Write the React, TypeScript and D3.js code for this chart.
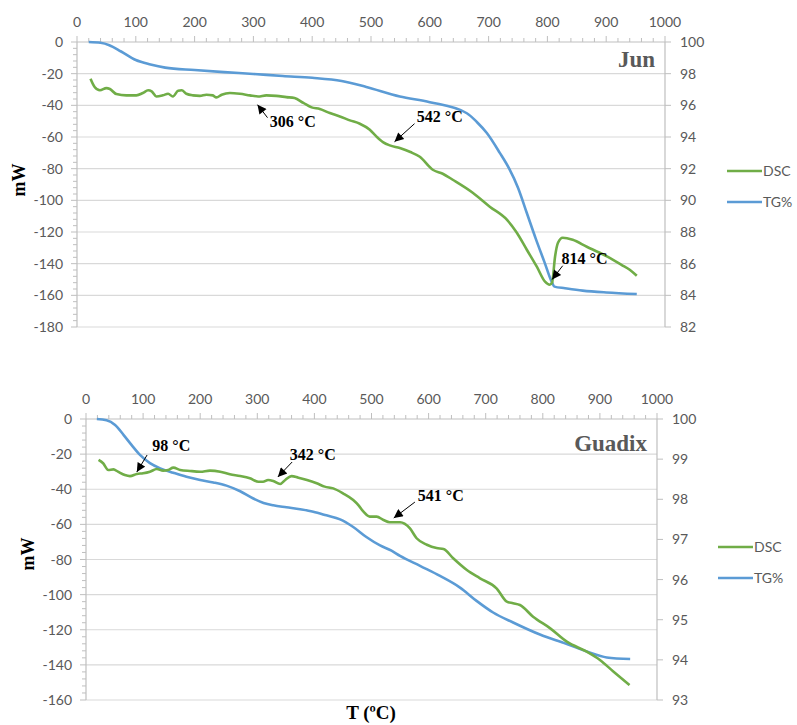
import React from "react";
import * as d3 from "d3";

// temperature (°C) ticks shared by both panels
const tempTicks = [0, 100, 200, 300, 400, 500, 600, 700, 800, 900, 1000];

// Jun sample: [T °C, value]
const junDsc: [number, number][] = [
  [23, -23.2], [30, -28.4], [39, -30.5], [50, -29.1], [56, -29.7], [67, -32.9], [84, -33.7], [101, -33.7],
  [112, -32.2], [121, -30.5], [127, -31.2], [135, -34.4], [146, -33.7], [155, -32.7], [163, -34.4], [172, -30.8],
  [178, -30.5], [186, -32.7], [197, -33.7], [209, -34], [220, -33.3], [231, -33.7], [237, -35], [246, -33.3],
  [260, -32.2], [277, -32.7], [294, -33.7], [308, -34.4], [322, -33.7], [339, -34], [356, -34.8], [370, -35.4],
  [385, -38.5], [399, -41.3], [413, -42.3], [430, -44.9], [447, -47], [464, -49.5], [481, -51.6], [498, -55.4],
  [509, -59.6], [521, -63.4], [532, -65.3], [549, -67], [567, -69.5], [583, -72.5], [605, -80.7], [622, -83.2],
  [639, -87], [673, -95.2], [702, -104], [731, -112.2], [748, -120.5], [765, -131.2], [782, -141.9], [796, -151.4],
  [804, -153.3], [808, -152], [813, -135.6], [818, -126.8], [826, -123.6], [843, -124.9], [867, -129.3],
  [889, -133.1], [906, -136.3], [926, -140.7], [940, -143.8], [952, -147.6],
];
const junTg: [number, number][] = [
  [20, 100], [40, 99.95], [55, 99.8], [75, 99.4], [100, 98.86], [125, 98.58], [150, 98.38], [200, 98.23],
  [250, 98.1], [300, 97.98], [350, 97.85], [400, 97.74], [450, 97.54], [492, 97.16], [549, 96.56], [600, 96.2],
  [663, 95.5], [680, 94.95], [697, 94.25], [719, 93.0], [735, 92.0], [750, 90.8], [765, 89.2], [780, 87.6],
  [795, 86.1], [808, 84.8], [812, 84.55], [830, 84.45], [860, 84.3], [900, 84.18], [952, 84.08],
];

// Guadix sample
const guadixDsc: [number, number][] = [
  [22, -23.3], [30, -25.2], [39, -29], [48, -28.7], [56, -30], [68, -31.9], [77, -32.5], [89, -31.3],
  [100, -30.9], [112, -30], [124, -28.5], [135, -29.4], [144, -29], [153, -27.7], [165, -29], [182, -29.6],
  [200, -30], [217, -29.4], [235, -30], [252, -31.5], [270, -32.5], [287, -33.8], [302, -35.7], [310, -35.7],
  [319, -34.7], [328, -35.3], [340, -37], [349, -34.7], [360, -32.5], [372, -33.4], [387, -34.7], [404, -36.6],
  [418, -38.5], [433, -39.5], [450, -42.3], [468, -46.1], [477, -49], [486, -52.8], [497, -55.6], [509, -55.6],
  [521, -57.5], [532, -58.8], [550, -58.8], [567, -62.2], [579, -67.9], [597, -71.6], [614, -73.5], [626, -74],
  [643, -79.3], [667, -86], [690, -90.7], [719, -96.4], [737, -104], [748, -104.9], [760, -105.9], [783, -112.6],
  [813, -119.2], [842, -126.8], [877, -132.5], [900, -137.2], [924, -143.9], [952, -151.5],
];
const guadixTg: [number, number][] = [
  [19, 100], [36, 99.97], [51, 99.85], [66, 99.6], [80, 99.35], [95, 99.1], [112, 98.9], [130, 98.77],
  [153, 98.66], [176, 98.56], [200, 98.48], [223, 98.42], [246, 98.34], [270, 98.2], [293, 98.02], [311, 97.91],
  [328, 97.85], [351, 97.8], [375, 97.75], [398, 97.69], [421, 97.6], [445, 97.5], [468, 97.31], [491, 97.06],
  [515, 96.85], [535, 96.72], [550, 96.59], [585, 96.34], [620, 96.09], [655, 95.8], [684, 95.47], [713, 95.18],
  [748, 94.93], [795, 94.63], [841, 94.4], [877, 94.21], [912, 94.06], [953, 94.02],
];

// peak annotations: arrow tip, arrow tail, label start (all in T, mW)
type Note = { label: string; tip: [number, number]; tail: [number, number]; at: [number, number] };
const junNotes: Note[] = [
  { label: "306 °C", tip: [307, -39.6], tail: [324, -47.8], at: [328, -53.5] },
  { label: "542 °C", tip: [540, -63], tail: [574, -51.6], at: [578, -50.3] },
  { label: "814 °C", tip: [808, -150], tail: [826, -141.3], at: [824, -140] },
];
const guadixNotes: Note[] = [
  { label: "98 °C", tip: [89, -30.2], tail: [107, -20.5], at: [116, -18.2] },
  { label: "342 °C", tip: [336, -33], tail: [361, -24.5], at: [357, -23.3] },
  { label: "541 °C", tip: [539, -56.4], tail: [576, -47.3], at: [581, -46.7] },
];

const GREEN = "#70ad47";
const BLUE = "#5b9bd5";
const AXIS = "#bfbfbf";
const GRID = "#d9d9d9";
const LABEL = "#595959";
const SANS = "Lato, 'Open Sans', sans-serif";
const SERIF = "'Liberation Serif', 'DejaVu Serif', serif";

type PanelProps = {
  id: string;
  name: string;
  dsc: [number, number][];
  tg: [number, number][];
  notes: Note[];
  left: number; right: number; top: number; bottom: number;
  mwMin: number;
  tgMin: number; tgStep: number;
  nameY: number;
  mwX: number; mwY: number;
  legendX: number; legendY: number;
};

function Panel(p: PanelProps) {
  const x = d3.scaleLinear().domain([0, 1000]).range([p.left, p.right]);
  const y = d3.scaleLinear().domain([p.mwMin, 0]).range([p.bottom, p.top]);
  const y2 = d3.scaleLinear().domain([p.tgMin, 100]).range([p.bottom, p.top]);

  const dscLine = d3.line<[number, number]>().x(d => x(d[0])).y(d => y(d[1])).curve(d3.curveMonotoneX);
  const tgLine = d3.line<[number, number]>().x(d => x(d[0])).y(d => y2(d[1])).curve(d3.curveMonotoneX);

  const yMajor = d3.range(0, p.mwMin - 1, -20);
  const yMinor = d3.range(0, p.mwMin - 0.1, -4);
  const xMinor = d3.range(0, 1001, 20);
  const tgTicks = d3.range(p.tgMin, 100.01, p.tgStep);

  return (
    <g>
      <defs>
        <marker id={"arr-" + p.id} viewBox="0 0 10 10" refX="10" refY="5" markerWidth="11" markerHeight="9"
          markerUnits="userSpaceOnUse" orient="auto">
          <path d="M0,0 L10,5 L0,10 Z" fill="#000" />
        </marker>
      </defs>
      {/* gridlines */}
      {yMajor.filter(v => v !== 0).map(v => (
        <line key={"g" + v} x1={p.left} x2={p.right} y1={y(v)} y2={y(v)} stroke={GRID} strokeWidth={1.2} />
      ))}
      {/* top temperature axis */}
      <line x1={p.left} x2={p.right} y1={p.top} y2={p.top} stroke={AXIS} strokeWidth={1.2} />
      {xMinor.map(t => (
        <line key={"xm" + t} x1={x(t)} x2={x(t)} y1={p.top} y2={p.top - (t % 100 === 0 ? 6 : 4)} stroke={AXIS} />
      ))}
      {tempTicks.map(t => (
        <text key={"xl" + t} x={x(t)} y={p.top - 15} textAnchor="middle" fontFamily={SANS} fontSize={14} fill={LABEL}>{t}</text>
      ))}
      {/* left mW axis */}
      <line x1={p.left} x2={p.left} y1={p.top} y2={p.bottom} stroke={AXIS} strokeWidth={1.2} />
      {yMinor.map(v => (
        <line key={"ym" + v} x1={p.left} x2={p.left - (v % 20 === 0 ? 6 : 4)} y1={y(v)} y2={y(v)} stroke={AXIS} />
      ))}
      {yMajor.map(v => (
        <text key={"yl" + v} x={p.left - 14} y={y(v) + 5} textAnchor="end" fontFamily={SANS} fontSize={14} fill={LABEL}>{v}</text>
      ))}
      {/* right TG axis */}
      <line x1={p.right} x2={p.right} y1={p.top} y2={p.bottom} stroke={AXIS} strokeWidth={1.2} />
      {tgTicks.map(v => (
        <g key={"r" + v}>
          <line x1={p.right} x2={p.right + 6} y1={y2(v)} y2={y2(v)} stroke={AXIS} />
          <text x={p.right + 15} y={y2(v) + 5} fontFamily={SANS} fontSize={14} fill={LABEL}>{v}</text>
        </g>
      ))}
      {/* series */}
      <path d={tgLine(p.tg) || ""} fill="none" stroke={BLUE} strokeWidth={2.6} strokeLinejoin="round" />
      <path d={dscLine(p.dsc) || ""} fill="none" stroke={GREEN} strokeWidth={2.6} strokeLinejoin="round" />
      {/* annotations */}
      {p.notes.map(n => (
        <g key={n.label}>
          <line x1={x(n.tail[0])} y1={y(n.tail[1])} x2={x(n.tip[0])} y2={y(n.tip[1])} stroke="#000" strokeWidth={1}
            markerEnd={`url(#arr-${p.id})`} />
          <text x={x(n.at[0])} y={y(n.at[1])} fontFamily={SERIF} fontWeight="bold" fontSize={16} fill="#000">{n.label}</text>
        </g>
      ))}
      <text x={p.right - 10} y={p.nameY} textAnchor="end" fontFamily={SERIF} fontWeight="bold" fontSize={23} fill={LABEL}>{p.name}</text>
      <text transform={`translate(${p.mwX},${p.mwY}) rotate(-90)`} textAnchor="middle" fontFamily={SERIF}
        fontWeight="bold" fontSize={18} fill="#000">mW</text>
      {/* legend */}
      <line x1={p.legendX} x2={p.legendX + 35} y1={p.legendY} y2={p.legendY} stroke={GREEN} strokeWidth={2.6} />
      <text x={p.legendX + 36} y={p.legendY + 5} fontFamily={SANS} fontSize={14} fill={LABEL}>DSC</text>
      <line x1={p.legendX} x2={p.legendX + 35} y1={p.legendY + 31} y2={p.legendY + 31} stroke={BLUE} strokeWidth={2.6} />
      <text x={p.legendX + 36} y={p.legendY + 36} fontFamily={SANS} fontSize={14} fill={LABEL}>TG%</text>
    </g>
  );
}

export default function App() {
  return (
    <div style={{ position: "absolute", left: 0, top: 0 }}>
      <svg width={797} height={725} style={{ display: "block", background: "#fff" }}>
        <Panel id="jun" name="Jun" dsc={junDsc} tg={junTg} notes={junNotes}
          left={77} right={665} top={42} bottom={327} mwMin={-180} tgMin={82} tgStep={2}
          nameY={67} mwX={25} mwY={180} legendX={727} legendY={171} />
        <Panel id="gua" name="Guadix" dsc={guadixDsc} tg={guadixTg} notes={guadixNotes}
          left={86} right={657} top={419} bottom={700} mwMin={-160} tgMin={93} tgStep={1}
          nameY={451} mwX={34} mwY={554} legendX={718} legendY={547} />
        <text x={371} y={719} textAnchor="middle" fontFamily={SERIF} fontWeight="bold" fontSize={19} fill="#000">T (ºC)</text>
      </svg>
    </div>
  );
}
